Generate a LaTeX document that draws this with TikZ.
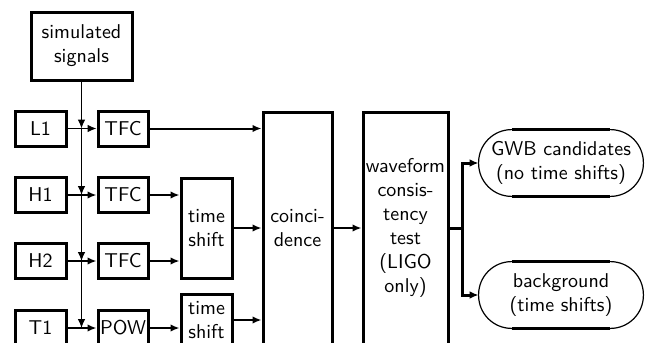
\documentclass[tikz,border=0pt]{standalone}
\usepackage{fontspec}
\usetikzlibrary{arrows.meta,calc}
\begin{document}
\begin{tikzpicture}[x=0.5pt,y=-0.5pt,
  font=\sffamily,
  blk/.style={draw,line width=1.5pt,inner sep=0pt,align=center},
  conn/.style={line width=1pt,-{Latex[length=4.5pt,width=3.8pt]}},
  thinconn/.style={line width=0.6pt,-{Latex[length=4.5pt,width=3.8pt]}},
  term/.style={inner sep=0pt,align=center,minimum width=82pt,minimum height=33pt}]
\useasboundingbox (0,0) rectangle (654,343);
\clip (0,0) rectangle (654,343);
% boxes
\node[blk,minimum width=50.5pt,minimum height=34pt] (sim) at (81.5,46) {simulated\\signals};
\node[blk,minimum width=25.5pt,minimum height=17.5pt] (L1) at (40.5,128.5) {L1};
\node[blk,minimum width=25.5pt,minimum height=17.5pt] (H1) at (40.5,195) {H1};
\node[blk,minimum width=25.5pt,minimum height=17.5pt] (H2) at (40.5,261) {H2};
\node[blk,minimum width=25.5pt,minimum height=17.5pt] (T1) at (40.5,328) {T1};
\node[blk,minimum width=25pt,minimum height=17.5pt] (tfc1) at (123,128.5) {TFC};
\node[blk,minimum width=25pt,minimum height=17.5pt] (tfc2) at (123,195) {TFC};
\node[blk,minimum width=25pt,minimum height=17.5pt] (tfc3) at (123,261) {TFC};
\node[blk,minimum width=25pt,minimum height=17.5pt] (pow) at (123,328) {POW};
\node[blk,minimum width=25.5pt,minimum height=50pt] (ts1) at (206.5,228) {time\\shift};
\node[blk,minimum width=25.5pt,minimum height=26pt] (ts2) at (206.5,320) {time\\shift};
\node[blk,minimum width=34.5pt,minimum height=116pt] (coin) at (297.5,228) {coinci-\\dence};
\node[blk,minimum width=42.5pt,minimum height=116pt] (wave) at (405.5,228) {waveform\\consis-\\tency\\test\\(LIGO\\only)};
\node[term] (gwb) at (561,163) {GWB candidates\\(no time shifts)};
\node[term] (bg) at (561,295) {background\\(time shifts)};
% terminal outlines
\foreach \n in {gwb,bg}{
  \draw[line width=0.6pt,rounded corners=16.5pt] (\n.north west) rectangle (\n.south east);
  \draw[line width=1.5pt] ([xshift=16.5pt]\n.north west) -- ([xshift=-16.5pt]\n.north east);
  \draw[line width=1.5pt] ([xshift=16.5pt]\n.south west) -- ([xshift=-16.5pt]\n.south east);
}
% junctions on the signal bus
\coordinate (j1) at (sim.south |- L1);
\coordinate (j2) at (sim.south |- H1);
\coordinate (j3) at (sim.south |- H2);
\coordinate (j4) at (sim.south |- T1);
\draw[thinconn] (sim.south) -- (j1);
\draw[thinconn] (j1) -- (j2);
\draw[thinconn] (j2) -- (j3);
\draw[thinconn] (j3) -- (j4);
% detector rows
\draw[thinconn] (L1) -- (tfc1);
\draw[conn] (H1) -- (tfc2);
\draw[conn] (H2) -- (tfc3);
\draw[conn] (T1) -- (pow);
\draw[conn] (tfc1) -- (tfc1 -| coin.west);
\draw[conn] (tfc2) -- (tfc2 -| ts1.west);
\draw[conn] (tfc3) -- (tfc3 -| ts1.west);
\draw[conn] (pow) -- (pow -| ts2.west);
\draw[conn] (ts1) -- (ts1 -| coin.west);
\draw[conn] (ts2) -- (ts2 -| coin.west);
\draw[conn] (coin) -- (wave);
\coordinate (s) at (462,228);
\draw[line width=1.5pt] (wave.east |- s) -- (s);
\draw[line width=1.5pt,-{Latex[length=4.5pt,width=3.8pt]}] (s) |- (gwb.west);
\draw[line width=1.5pt,-{Latex[length=4.5pt,width=3.8pt]}] (s) |- (bg.west);
\end{tikzpicture}
\end{document}
